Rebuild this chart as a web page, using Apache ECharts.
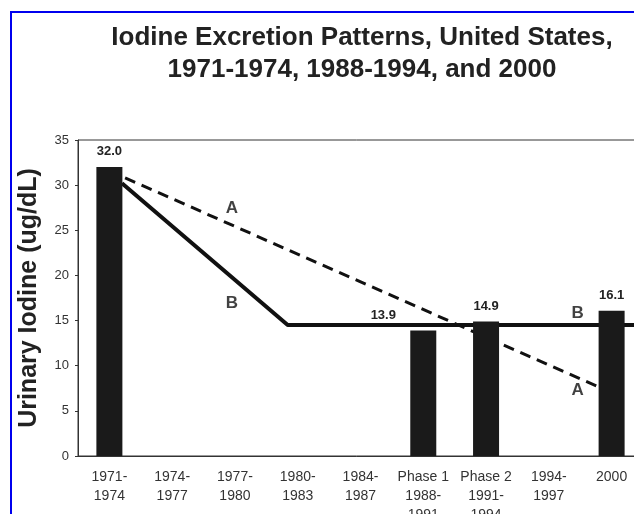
<!DOCTYPE html>
<html>
<head>
<meta charset="utf-8">
<script src="https://cdn.jsdelivr.net/npm/echarts@6/dist/echarts.min.js"></script>
<style>
  html, body { margin: 0; padding: 0; background: #fff; }
  #chart { width: 634px; height: 514px; }
</style>
</head>
<body>
<div id="chart"></div>
<script>
const periods = ["1971-\n1974", "1974-\n1977", "1977-\n1980", "1980-\n1983", "1984-\n1987",
  "Phase 1\n1988-\n1991", "Phase 2\n1991-\n1994", "1994-\n1997", "2000"];
const iodineValues = [32.0, "-", "-", "-", "-", 13.9, 14.9, "-", 16.1];

// trend lines, x in category units (0 = left edge of first period)
const lineAX = [0.75, 8.31];
const lineAY = [30.8, 7.6];
const lineBX = [0.70, 3.34, 9.0];
const lineBY = [30.2, 14.5, 14.5];

// letter tags on the trend lines
const tagX = [2.45, 2.45, 7.96, 7.96];
const tagY = [27.4, 16.9, 15.8, 7.3];
const tagText = ["A", "B", "B", "A"];

const chart = echarts.init(document.getElementById("chart"));

const font = "Arial, 'Liberation Sans', sans-serif";

const barData = iodineValues.map((v, i) => {
  if (v === "-") return v;
  if (i === 5) {
    return { value: v, label: { offset: [-40, 0] } };
  }
  return v;
});

const option = {
  animation: false,
  textStyle: { fontFamily: font },
  title: {
    text: "Iodine Excretion Patterns, United States,\n1971-1974, 1988-1994, and 2000",
    left: 357,
    top: 17,
    textAlign: "center",
    textStyle: { fontSize: 26, fontWeight: "bold", color: "#222", lineHeight: 32, fontFamily: font }
  },
  graphic: [{
    type: "rect",
    shape: { x: 11, y: 12, width: 700, height: 600 },
    style: { fill: null, stroke: "#0000ee", lineWidth: 2 },
    silent: true
  }],
  grid: {
    left: 78, top: 140, width: 565, height: 316,
    outerBoundsMode: "none",
    containLabel: false,
    show: true, borderColor: "#333", borderWidth: 1, backgroundColor: "transparent"
  },
  xAxis: [{
    type: "category",
    data: periods,
    axisLine: { lineStyle: { color: "#333", width: 1 } },
    axisTick: {
      length: 3,
      lineStyle: { color: "#333" },
      interval: (i) => [2, 4, 5, 8].includes(i)
    },
    axisLabel: { fontSize: 14, color: "#333", margin: 12, lineHeight: 19, interval: 0, fontFamily: font }
  }, {
    type: "value",
    min: 0, max: 9,
    show: false
  }],
  yAxis: {
    type: "value",
    min: 0, max: 35, interval: 5,
    name: "Urinary Iodine (ug/dL)",
    nameLocation: "middle",
    nameGap: 36,
    nameTextStyle: { fontSize: 25, fontWeight: "bold", color: "#222", fontFamily: font },
    axisLine: { show: true, lineStyle: { color: "#333", width: 1 } },
    axisTick: { show: true, length: 3, lineStyle: { color: "#333" } },
    splitLine: { show: false },
    axisLabel: { fontSize: 13, color: "#333", margin: 9, fontFamily: font }
  },
  series: [
    {
      type: "line",
      xAxisIndex: 1,
      data: lineAX.map((x, i) => [x, lineAY[i]]),
      symbol: "none",
      lineStyle: { color: "#111", width: 3, type: [11, 7] },
      z: 1
    },
    {
      type: "line",
      xAxisIndex: 1,
      data: lineBX.map((x, i) => [x, lineBY[i]]),
      symbol: "none",
      lineStyle: { color: "#111", width: 4 },
      z: 1
    },
    {
      type: "bar",
      data: barData,
      barWidth: 26,
      itemStyle: { color: "#1a1a1a" },
      label: {
        show: true,
        position: "top",
        distance: 9,
        fontSize: 13,
        fontWeight: "bold",
        color: "#222",
        formatter: (p) => p.value.toFixed(1)
      },
      z: 2
    },
    {
      type: "scatter",
      xAxisIndex: 1,
      symbolSize: 0,
      data: tagX.map((x, i) => ({ value: [x, tagY[i]], name: tagText[i] })),
      label: {
        show: true,
        position: "inside",
        formatter: (p) => p.name,
        fontSize: 17,
        fontWeight: "bold",
        color: "#111"
      },
      z: 3
    }
  ]
};

chart.setOption(option);
</script>
</body>
</html>
